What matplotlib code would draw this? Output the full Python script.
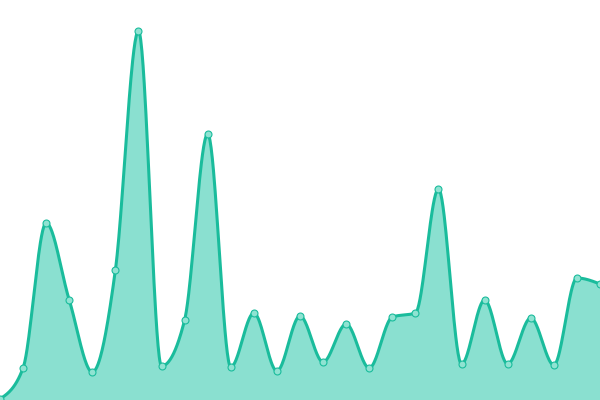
import numpy as np
import matplotlib
matplotlib.use("Agg")
import matplotlib.pyplot as plt

# Data (one value per category index)
categories = list(range(27))
values = [1, 32, 177, 100, 28, 130, 369, 34, 80, 266, 33, 87, 29, 84, 38, 76,
          32, 83, 87, 211, 36, 100, 36, 82, 35, 122, 116]

LINE = "#1abc9c"
FILL = "#8ae0d0"
MARK = "#8fe3d2"


def monotone_x(x, y, n=40):
    x = np.asarray(x, float)
    y = np.asarray(y, float)
    m = len(x)
    h = np.diff(x)
    s = np.diff(y) / h
    t = np.zeros(m)
    for i in range(1, m - 1):
        h0, h1 = h[i - 1], h[i]
        s0, s1 = s[i - 1], s[i]
        p = (s0 * h1 + s1 * h0) / (h0 + h1)
        t[i] = (np.sign(s0) + np.sign(s1)) * min(abs(s0), abs(s1), 0.5 * abs(p))
    t[0] = (3 * s[0] - t[1]) / 2
    t[-1] = (3 * s[-1] - t[-2]) / 2
    xs, ys = [], []
    for i in range(m - 1):
        u = np.linspace(0, 1, n, endpoint=(i == m - 2))
        dx = h[i]
        p0 = np.array([x[i], y[i]])
        p1 = np.array([x[i] + dx / 3, y[i] + dx * t[i] / 3])
        p2 = np.array([x[i + 1] - dx / 3, y[i + 1] - dx * t[i + 1] / 3])
        p3 = np.array([x[i + 1], y[i + 1]])
        b = ((1 - u) ** 3)[:, None] * p0 + (3 * (1 - u) ** 2 * u)[:, None] * p1 \
            + (3 * (1 - u) * u ** 2)[:, None] * p2 + (u ** 3)[:, None] * p3
        xs.append(b[:, 0])
        ys.append(b[:, 1])
    return np.concatenate(xs), np.concatenate(ys)


fig = plt.figure(figsize=(6, 4), dpi=100)
ax = fig.add_axes([0, 0, 1, 1])
cx, cy = monotone_x(categories, values)
ax.fill_between(cx, cy, 0, color=FILL, linewidth=0)
ax.plot(cx, cy, color=LINE, linewidth=2.2, solid_capstyle="round")
ax.plot(categories, values, linestyle="none", marker="o", markersize=5,
        markerfacecolor=MARK, markeredgecolor=LINE, markeredgewidth=0.8)
ax.set_xlim(0, 26)
ax.set_ylim(0, 400)
ax.axis("off")
fig.savefig("out.png", dpi=100)
